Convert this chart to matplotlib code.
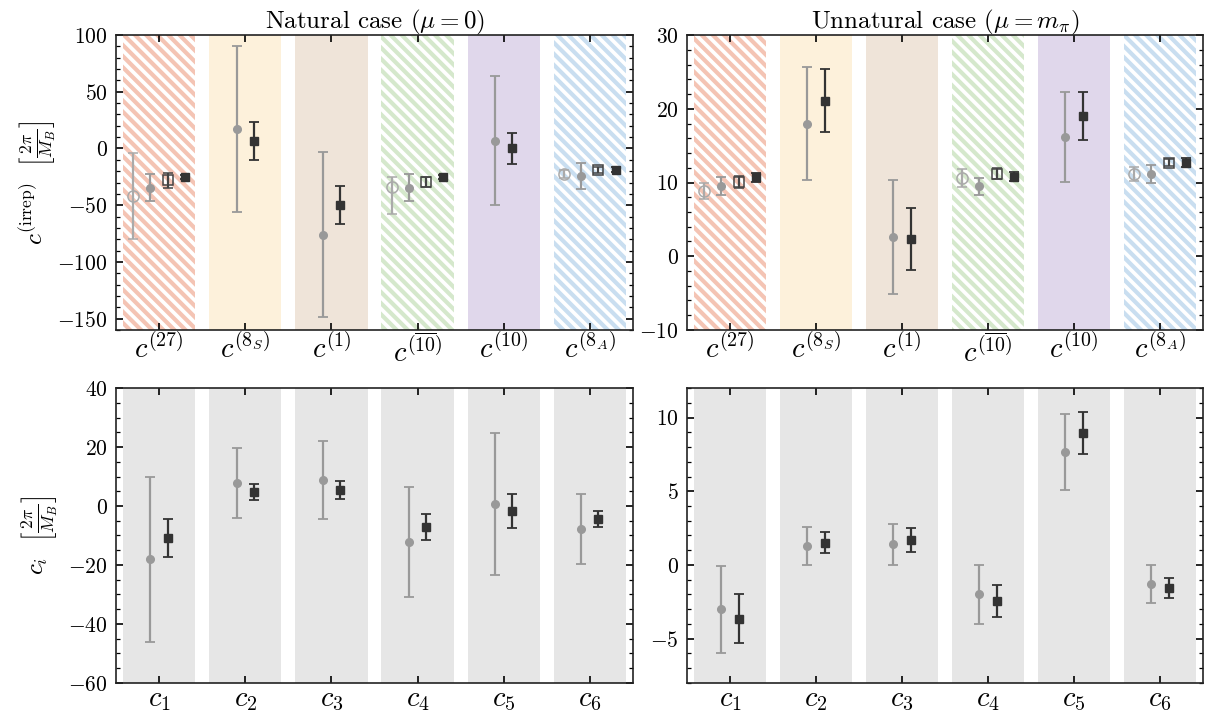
import numpy as np
import matplotlib
matplotlib.use('Agg')
import matplotlib.pyplot as plt
from matplotlib.ticker import MultipleLocator

plt.rcParams['font.family'] = 'serif'
plt.rcParams['font.serif'] = ['cmr10']
plt.rcParams['mathtext.fontset'] = 'cm'
plt.rcParams['axes.formatter.use_mathtext'] = True
plt.rcParams['hatch.linewidth'] = 3.0

# categories
irrep_labels = [r'$c^{(27)}$', r'$c^{(8_S)}$', r'$c^{(1)}$',
                r'$c^{(\overline{10})}$', r'$c^{(10)}$', r'$c^{(8_A)}$']
ci_labels = [r'$c_1$', r'$c_2$', r'$c_3$', r'$c_4$', r'$c_5$', r'$c_6$']
irrep_colors = ['#f4c4b4', '#fdf1db', '#efe4d9', '#d5e8cc', '#e0d7eb', '#c9def0']
irrep_hatched = [True, False, False, True, False, True]
open_idx = [0, 3, 5]   # categories with the extra open markers

# natural case, irrep basis
nat_irr_circ = [-34.5, 17, -76, -34.5, 7, -24]
nat_irr_circ_err = [12, 73, 73, 12, 57, 11.6]
nat_irr_sq = [-25, 6.5, -50, -25, 0, -18.7]
nat_irr_sq_err = [2, 17, 17, 2, 13.3, 2]
nat_irr_ocirc = [-42, -34.4, -22.5]
nat_irr_ocirc_lo = [38, 23.7, 3.3]
nat_irr_ocirc_hi = [38, 8.9, 3.3]
nat_irr_osq = [-28, -29.4, -18.7]
nat_irr_osq_err = [6.5, 4.5, 2.5]

# unnatural case, irrep basis
unn_irr_circ = [9.5, 18, 2.6, 9.5, 16.2, 11.15]
unn_irr_circ_err = [1.2, 7.7, 7.7, 1.15, 6.1, 1.2]
unn_irr_sq = [10.7, 21.1, 2.4, 10.8, 19.0, 12.7]
unn_irr_sq_err = [0.6, 4.3, 4.2, 0.6, 3.3, 0.6]
unn_irr_ocirc = [8.8, 10.6, 11.15]
unn_irr_ocirc_lo = [1.1, 1.2, 0.9]
unn_irr_ocirc_hi = [1.1, 1.2, 0.9]
unn_irr_osq = [10.05, 11.2, 12.7]
unn_irr_osq_err = [0.8, 0.7, 0.5]

# natural case, c_i basis
nat_ci_circ = [-18, 7.8, 8.7, -12.1, 0.7, -7.8]
nat_ci_circ_err = [28, 12, 13.2, 18.6, 24.2, 12]
nat_ci_sq = [-10.8, 4.6, 5.4, -7.2, -1.6, -4.5]
nat_ci_sq_err = [6.5, 2.7, 3, 4.4, 5.7, 2.7]

# unnatural case, c_i basis
unn_ci_circ = [-3.0, 1.27, 1.4, -2.0, 7.66, -1.3]
unn_ci_circ_err = [2.95, 1.28, 1.4, 2.0, 2.6, 1.27]
unn_ci_sq = [-3.65, 1.52, 1.7, -2.43, 8.98, -1.56]
unn_ci_sq_err = [1.65, 0.7, 0.8, 1.1, 1.42, 0.7]

gray = '#999999'
dark = '#333333'
ebkw = dict(linestyle='none', capsize=3.5, elinewidth=1.6, capthick=1.3, zorder=3)

fig = plt.figure(figsize=(12.07, 7.15), dpi=100)
axes = [[fig.add_axes([0.0961, 0.5385, 0.4283, 0.4125]),
         fig.add_axes([0.5692, 0.5385, 0.4275, 0.4125])],
        [fig.add_axes([0.0961, 0.0448, 0.4283, 0.4125]),
         fig.add_axes([0.5692, 0.0448, 0.4275, 0.4125])]]

x = np.arange(6)


def style(ax, major, minor, ylim, labels):
    ax.set_xlim(-0.5, 5.5)
    ax.set_ylim(*ylim)
    ax.set_xticks(x)
    ax.set_xticklabels(labels)
    ax.yaxis.set_major_locator(MultipleLocator(major))
    ax.yaxis.set_minor_locator(MultipleLocator(minor))
    ax.tick_params(axis='both', direction='in', which='major', length=5, width=1.2,
                   top=True, right=True, labelsize=15.5)
    ax.tick_params(axis='x', labelsize=20.5, pad=3)
    ax.tick_params(axis='y', pad=6)
    ax.tick_params(axis='y', direction='in', which='minor', length=3, width=0.9,
                   left=True, right=True)
    for s in ['top', 'bottom', 'left', 'right']:
        ax.spines[s].set_linewidth(1.2)
        ax.spines[s].set_color('#222222')


# top row: irrep basis
top_data = [
    (nat_irr_circ, nat_irr_circ_err, nat_irr_sq, nat_irr_sq_err,
     nat_irr_ocirc, nat_irr_ocirc_lo, nat_irr_ocirc_hi, nat_irr_osq, nat_irr_osq_err),
    (unn_irr_circ, unn_irr_circ_err, unn_irr_sq, unn_irr_sq_err,
     unn_irr_ocirc, unn_irr_ocirc_lo, unn_irr_ocirc_hi, unn_irr_osq, unn_irr_osq_err),
]
for ax, d in zip(axes[0], top_data):
    circ, circ_e, sq, sq_e, oc, oc_lo, oc_hi, osq, osq_e = d
    for i in range(6):
        if irrep_hatched[i]:
            ax.axvspan(i - 0.42, i + 0.42, facecolor='white', edgecolor=irrep_colors[i],
                       hatch='\\\\\\', linewidth=0, zorder=0)
        else:
            ax.axvspan(i - 0.42, i + 0.42, facecolor=irrep_colors[i], linewidth=0, zorder=0)
    xc = x - 0.1
    xs = np.where(np.isin(x, open_idx), x + 0.3, x + 0.1)
    xo = np.array(open_idx)
    ax.errorbar(xo - 0.3, oc, yerr=[oc_lo, oc_hi], fmt='o', ms=8, mfc='none',
                mec='#aaaaaa', mew=1.1, color='#aaaaaa', **ebkw)
    ax.errorbar(xc, circ, yerr=circ_e, fmt='o', ms=5.5, color=gray, **ebkw)
    ax.errorbar(xo + 0.1, osq, yerr=osq_e, fmt='s', ms=7.5, mfc='none',
                mec='#444444', mew=1.1, color='#444444', **ebkw)
    ax.errorbar(xs, sq, yerr=sq_e, fmt='s', ms=6, color=dark, **ebkw)

style(axes[0][0], 50, 10, (-160, 100), irrep_labels)
style(axes[0][1], 10, 2, (-10, 30), irrep_labels)

# bottom row: c_i basis
bot_data = [(nat_ci_circ, nat_ci_circ_err, nat_ci_sq, nat_ci_sq_err),
            (unn_ci_circ, unn_ci_circ_err, unn_ci_sq, unn_ci_sq_err)]
for ax, d in zip(axes[1], bot_data):
    circ, circ_e, sq, sq_e = d
    for i in range(6):
        ax.axvspan(i - 0.42, i + 0.42, facecolor='#e6e6e6', linewidth=0, zorder=0)
    ax.errorbar(x - 0.1, circ, yerr=circ_e, fmt='o', ms=5.5, color=gray, **ebkw)
    ax.errorbar(x + 0.1, sq, yerr=sq_e, fmt='s', ms=6, color=dark, **ebkw)

style(axes[1][0], 20, 5, (-60, 40), ci_labels)
style(axes[1][1], 5, 1, (-8, 12), ci_labels)

axes[0][0].set_title(r'Natural case ($\mu = 0$)', fontsize=18, pad=5)
axes[0][1].set_title(r'Unnatural case ($\mu = m_\pi$)', fontsize=18, pad=5)

axes[0][0].set_ylabel(r'$c^{(\mathrm{irrep})}\ \ \left[\frac{2\pi}{M_B}\right]$', fontsize=18)
axes[1][0].set_ylabel(r'$c_i\ \ \left[\frac{2\pi}{M_B}\right]$', fontsize=18)
axes[0][0].yaxis.set_label_coords(-0.11, 0.5)
axes[1][0].yaxis.set_label_coords(-0.11, 0.5)

fig.savefig('out.png', dpi=100)
